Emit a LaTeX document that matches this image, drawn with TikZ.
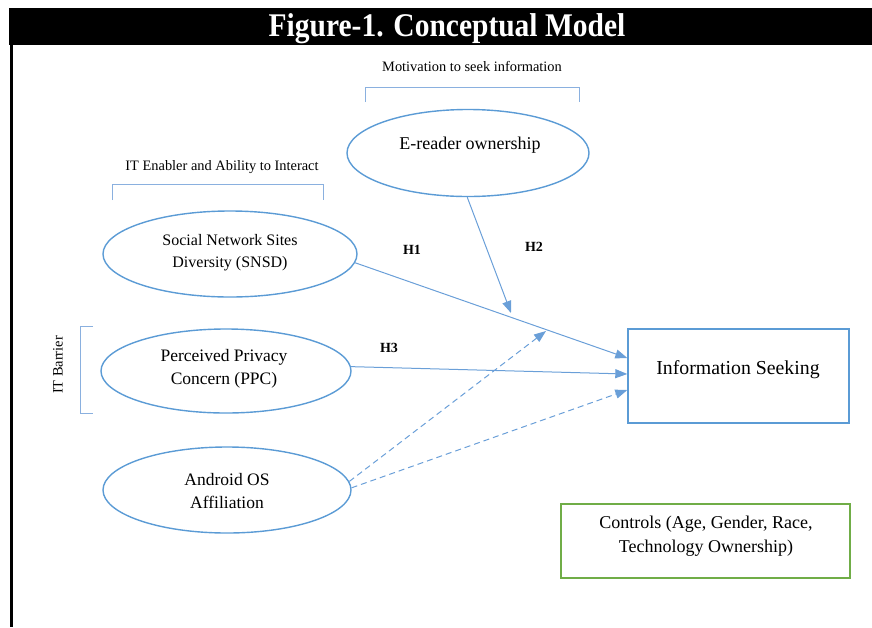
\documentclass[tikz,border=0pt]{standalone}
\usepackage{fontspec}
\setmainfont{Liberation Serif}
\usetikzlibrary{arrows.meta,shapes.geometric,calc}
\definecolor{ovalblue}{HTML}{5B9BD5}
\definecolor{arrowblue}{HTML}{6A9FD8}
\definecolor{ctrlgreen}{HTML}{70AD47}
\definecolor{bracketblue}{HTML}{8AB0DF}
\begin{document}
\begin{tikzpicture}[x=1pt,y=-1pt,
  oval/.style={ellipse, draw=ovalblue, line width=1.4pt, inner sep=0pt},
  ovaltext/.style={font=\fontsize{17.5}{22.5}\selectfont, align=center, inner sep=0pt},
  smalltext/.style={font=\fontsize{14.4}{16}\selectfont, inner sep=0pt},
  hyp/.style={font=\fontsize{14}{16}\selectfont\bfseries, inner sep=0pt},
  bluebox/.style={draw=ovalblue, line width=1.4pt, inner sep=0pt},
  greenbox/.style={draw=ctrlgreen, line width=1.4pt, inner sep=0pt},
  bracket/.style={draw=bracketblue, line width=1pt},
  link/.style={draw=arrowblue, line width=1pt, -{Triangle[length=12pt,width=9pt]}},
  dlink/.style={link, dash pattern=on 6pt off 4pt},
  titletext/.style={font=\fontsize{29.5}{31}\selectfont\bfseries, text=white, inner sep=0pt}
]
\useasboundingbox (0,0) rectangle (872,627);
% frame
\fill[black] (9,8) rectangle (872,45);
\fill[black] (10,45) rectangle (12.5,627);
\node[titletext] (title) at (447,29) {\scalebox{1}[1.12]{Figure-1. Conceptual Model}};

% group labels and brackets
\node[smalltext] (motiv) at (472,66) {Motivation to seek information};
\draw[bracket] (365,102) -- (365,87) -- (579,87) -- (579,102);
\node[smalltext] (enabler) at (222,167) {IT Enabler and Ability to Interact};
\draw[bracket] (112,200) -- (112,184) -- (323,184) -- (323,200);
\node[smalltext, rotate=90] (barrier) at (58,365) {IT Barrier};
\draw[bracket] (93,326) -- (80,326) -- (80,413) -- (93,413);

% ellipses
\node[oval, minimum width=242pt, minimum height=87pt] (ereader) at (468,153) {};
\node[ovaltext, font=\fontsize{18}{22}\selectfont] (ereadert) at (470,145) {E-reader ownership};
\node[oval, minimum width=254pt, minimum height=86pt] (snsd) at (230,254) {};
\node[ovaltext, font=\fontsize{16}{22}\selectfont] (snsdt) at (230,253) {Social Network Sites\\Diversity (SNSD)};
\node[oval, minimum width=250pt, minimum height=84pt] (ppc) at (226,371) {};
\node[ovaltext] (ppct) at (224,369) {Perceived Privacy\\Concern (PPC)};
\node[oval, minimum width=248pt, minimum height=86pt] (andr) at (227,490) {};
\node[ovaltext] (andrt) at (227,491) {Android OS\\Affiliation};

% boxes
\node[bluebox, minimum width=221pt, minimum height=94pt] (info) at (738.5,376) {};
\node[font=\fontsize{19.8}{22}\selectfont, inner sep=0pt] (infot) at (738,370) {Information Seeking};
\node[greenbox, minimum width=289pt, minimum height=74pt] (ctrl) at (705.5,541) {};
\node[ovaltext, font=\fontsize{18}{24}\selectfont] (ctrlt) at (706,536) {Controls (Age, Gender, Race,\\Technology Ownership)};

% free ends
\coordinate (h2end) at (511,313);
\coordinate (dend) at (546,331);

% connectors
\draw[link] (snsd.-4) -- ([yshift=18pt]info.west);
\draw[link] (ereader.-91) -- (h2end);
\draw[link] (ppc.2) -- ([yshift=2pt]info.west);
\draw[dlink] (andr.4) -- (dend);
\draw[dlink] (andr.1) -- ([yshift=-14pt]info.west);

% hypothesis labels
\node[hyp] (h1) at (412,250) {H1};
\node[hyp] (h2) at (534,247) {H2};
\node[hyp] (h3) at (389,348) {H3};
\end{tikzpicture}
\end{document}
